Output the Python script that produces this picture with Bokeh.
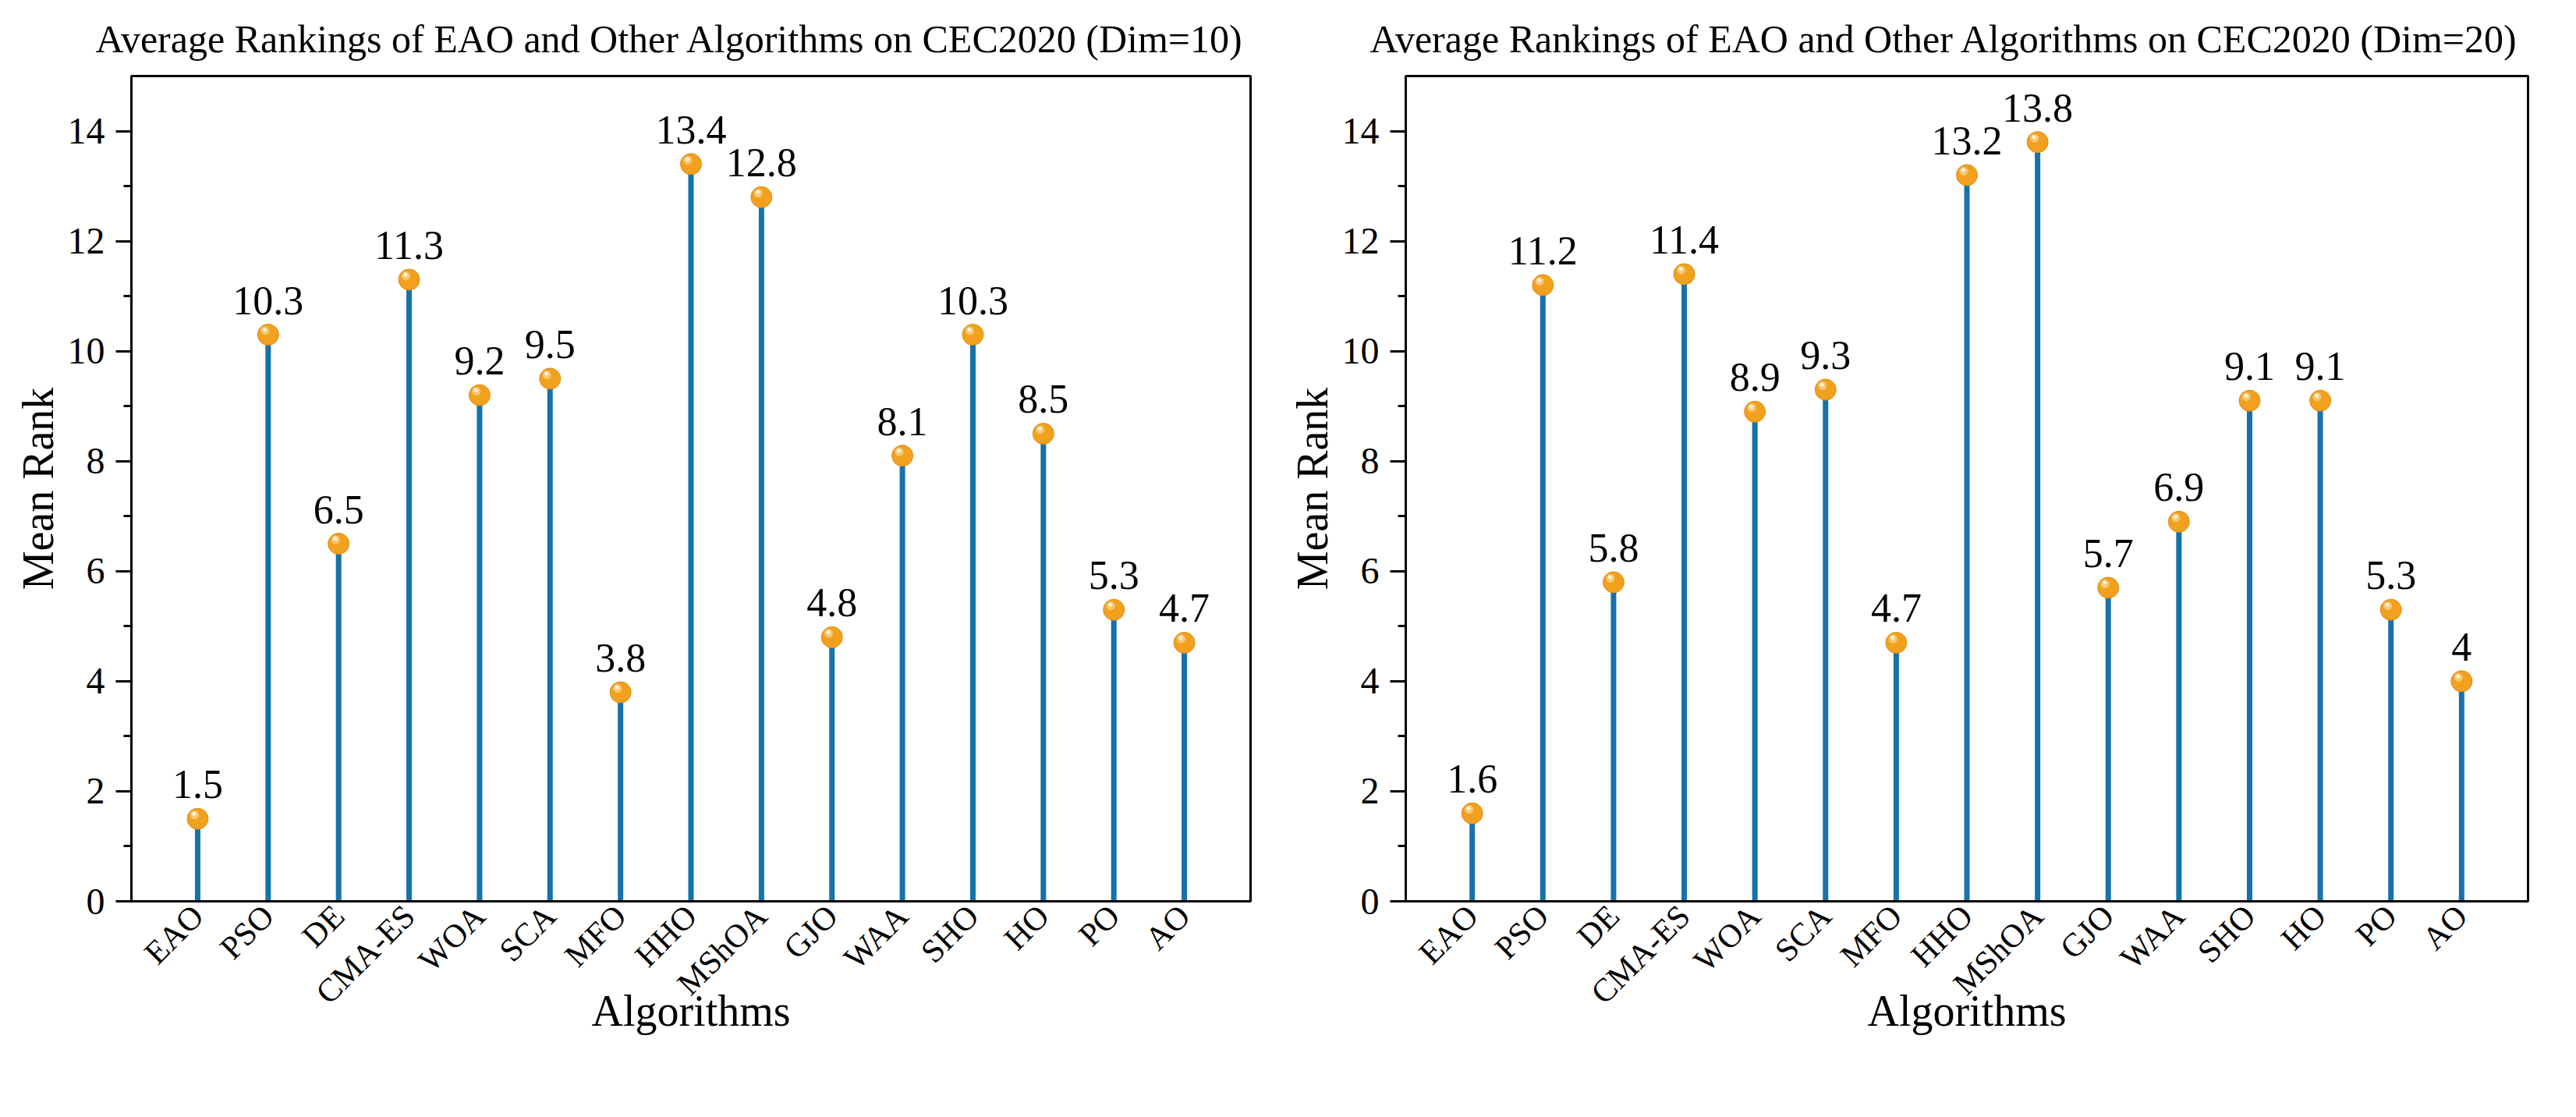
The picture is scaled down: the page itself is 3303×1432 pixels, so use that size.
import math
from bokeh.plotting import figure
from bokeh.layouts import row
from bokeh.models import Range1d, FixedTicker, ColumnDataSource
from bokeh.core.properties import value
from bokeh.embed import file_html
from bokeh.resources import INLINE

algorithms = ["EAO", "PSO", "DE", "CMA-ES", "WOA", "SCA", "MFO", "HHO",
              "MShOA", "GJO", "WAA", "SHO", "HO", "PO", "AO"]
rank_dim10 = [1.5, 10.3, 6.5, 11.3, 9.2, 9.5, 3.8, 13.4, 12.8, 4.8, 8.1, 10.3, 8.5, 5.3, 4.7]
rank_dim20 = [1.6, 11.2, 5.8, 11.4, 8.9, 9.3, 4.7, 13.2, 13.8, 5.7, 6.9, 9.1, 9.1, 5.3, 4.0]
titles = ["Average Rankings of EAO and Other Algorithms on CEC2020 (Dim=10)",
          "Average Rankings of EAO and Other Algorithms on CEC2020 (Dim=20)"]
y_major = [0, 2, 4, 6, 8, 10, 12, 14]
y_minor = [1, 3, 5, 7, 9, 11, 13]
x_label = "Algorithms"
y_label = "Mean Rank"

FONT = "Liberation Serif"
STEM = "#1672aa"
BALL = "#f2a11f"


def make(title, vals, border_left, frame_w, border_right):
    n = len(algorithms)
    xs = list(range(1, n + 1))
    src = ColumnDataSource(dict(
        x=xs, y=vals, y0=[0] * n,
        hx=[x - 0.045 for x in xs], hy=[v + 0.07 for v in vals],
        wx=[x - 0.05 for x in xs], wy=[v + 0.09 for v in vals],
        lbl=[f"{v:g}" for v in vals]))
    p = figure(frame_width=frame_w, frame_height=1058,
               x_range=Range1d(0.06, n + 0.94), y_range=Range1d(0, 15),
               output_backend="svg", toolbar_location=None,
               min_border_left=border_left, min_border_right=border_right,
               min_border_top=97, min_border_bottom=40)
    p.title.text = title
    p.title.text_font = FONT
    p.title.text_font_size = "50px"
    p.title.text_font_style = "normal"
    p.title.text_color = "black"
    p.title.align = "left"
    p.title.vertical_align = "top"
    p.title.offset = -46
    p.title.standoff = 36

    p.grid.visible = False
    p.outline_line_color = "black"
    p.outline_line_width = 3
    p.background_fill_color = "white"
    p.border_fill_color = "white"

    p.segment(x0="x", y0="y0", x1="x", y1="y", source=src,
              line_color=STEM, line_width=7)
    p.scatter(x="x", y="y", source=src, size=27, fill_color=BALL,
              line_color="#dc8c12", line_width=1)
    p.scatter(x="hx", y="hy", source=src, size=11, fill_color="#f8c770",
              line_color=None)
    p.scatter(x="wx", y="wy", source=src, size=5, fill_color="#fff3dc",
              line_color=None)
    p.text(x="x", y="y", text="lbl", source=src, text_font=value(FONT),
           text_font_size="52px", text_align="center",
           text_baseline="alphabetic", y_offset=-44, text_color="black")

    ya = p.yaxis[0]
    ya.ticker = FixedTicker(ticks=y_major, minor_ticks=y_minor)
    ya.axis_label = y_label
    ya.axis_label_text_font = FONT
    ya.axis_label_text_font_size = "56px"
    ya.axis_label_text_font_style = "normal"
    ya.axis_label_text_color = "black"
    ya.axis_label_standoff = 4
    ya.major_label_text_font = FONT
    ya.major_label_text_font_size = "48px"
    ya.major_label_text_color = "black"
    ya.major_label_standoff = 14
    ya.axis_line_width = 3
    ya.major_tick_line_width = 3
    ya.minor_tick_line_width = 3
    ya.major_tick_out = 20
    ya.major_tick_in = 0
    ya.minor_tick_out = 10
    ya.minor_tick_in = 0

    xa = p.xaxis[0]
    xa.ticker = FixedTicker(ticks=xs, minor_ticks=[])
    xa.major_label_overrides = {x: a for x, a in zip(xs, algorithms)}
    xa.major_label_orientation = math.pi / 4
    xa.major_label_text_font = FONT
    xa.major_label_text_font_size = "42px"
    xa.major_label_text_color = "black"
    xa.major_label_standoff = 12
    xa.axis_label = x_label
    xa.axis_label_text_font = FONT
    xa.axis_label_text_font_size = "56px"
    xa.axis_label_text_font_style = "normal"
    xa.axis_label_text_color = "black"
    xa.axis_label_standoff = -50
    xa.axis_line_width = 3
    xa.major_tick_line_width = 3
    xa.major_tick_out = 0
    xa.major_tick_in = 0
    xa.minor_tick_out = 0
    return p


p1 = make(titles[0], rank_dim10, 168, 1435, 40)
p2 = make(titles[1], rank_dim20, 159, 1439, 30)
layout = row(p1, p2, spacing=0)
open("out.html", "w").write(file_html(layout, INLINE))
